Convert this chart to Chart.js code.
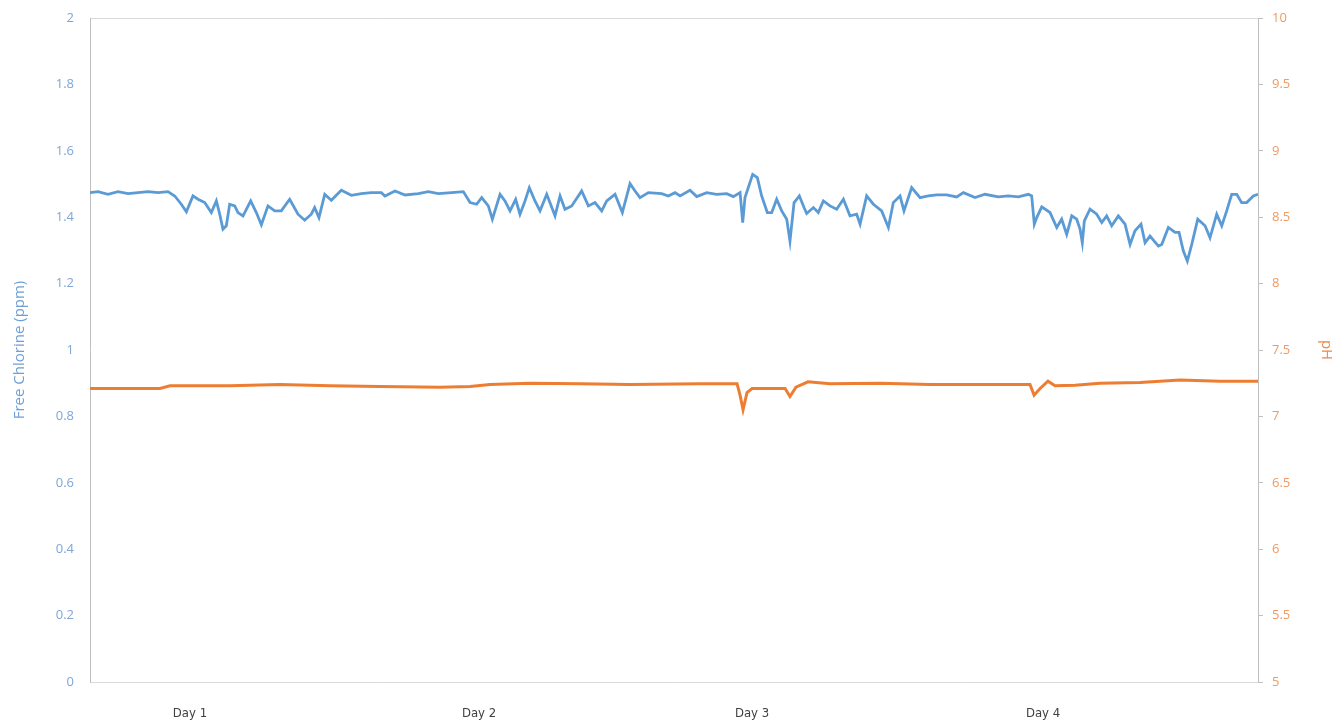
<!DOCTYPE html>
<html>
<head>
<meta charset="utf-8">
<script src="https://cdn.jsdelivr.net/npm/chart.js@4/dist/chart.umd.min.js"></script>
<style>
html,body{margin:0;padding:0;background:#fff;}
#wrap{position:absolute;left:0;top:0;width:1335px;height:720px;}
</style>
</head>
<body>
<div id="wrap"><canvas id="c" width="1335" height="720"></canvas></div>
<script>
// Time in hours since start of logging
const clTime = [0,0.67,1.5,2.33,3.17,4.0,4.83,5.67,6.5,7.06,7.61,8.03,8.58,9.0,9.56,10.11,10.53,10.81,11.08,11.36,11.64,12.06,12.33,12.75,13.39,13.86,14.28,14.83,15.39,15.94,16.64,17.33,17.89,18.44,18.72,19.08,19.56,20.11,20.94,21.78,22.61,23.44,24.28,
24.58,25.42,26.25,27.36,28.19,29.03,30.14,31.11,31.67,32.22,32.64,33.19,33.53,34.17,34.58,35.0,35.47,35.83,36.25,36.61,37.08,37.5,38.06,38.75,39.17,39.58,40.14,40.97,41.53,42.08,42.64,43.06,43.75,44.36,45.0,45.42,45.83,46.53,47.64,48.19,48.75,
49.17,50.0,50.56,51.39,52.22,53.06,53.61,54.17,54.39,54.58,55.22,55.61,55.97,56.44,56.81,57.22,57.64,58.06,58.33,58.67,59.11,59.5,59.72,60.28,60.69,61.11,61.67,62.22,62.78,63.33,63.89,64.17,64.72,65.28,65.97,66.53,66.94,67.5,67.83,68.47,69.17,69.86,70.56,71.39,72.22,72.78,
73.75,74.58,75.69,76.53,77.36,78.19,78.47,78.69,78.89,79.31,80.0,80.56,80.97,81.39,81.81,82.22,82.5,82.69,82.86,83.33,83.89,84.31,84.72,85.14,85.69,86.25,86.67,87.08,87.58,87.92,88.33,89.03,89.31,89.86,90.42,90.75,91.11,91.44,91.81,92.31,92.92,93.33,93.89,94.31,94.72,95.14,95.56,95.97,96.39,96.94,97.33];

const chlorine = [1.474,1.477,1.469,1.477,1.471,1.474,1.477,1.474,1.477,1.464,1.439,1.416,1.464,1.454,1.444,1.414,1.449,1.409,1.364,1.374,1.439,1.434,1.414,1.404,1.449,1.414,1.377,1.434,1.419,1.419,1.454,1.409,1.391,1.409,1.429,1.399,1.469,1.451,1.481,1.466,1.471,1.474,1.474,
1.464,1.479,1.467,1.471,1.477,1.471,1.474,1.477,1.444,1.439,1.459,1.434,1.394,1.469,1.449,1.419,1.454,1.409,1.449,1.489,1.449,1.419,1.469,1.404,1.464,1.424,1.434,1.479,1.434,1.444,1.419,1.449,1.469,1.414,1.501,1.479,1.459,1.474,1.471,1.464,1.474,
1.464,1.481,1.462,1.474,1.469,1.471,1.462,1.474,1.384,1.459,1.529,1.519,1.464,1.414,1.414,1.454,1.419,1.394,1.328,1.444,1.464,1.429,1.411,1.429,1.414,1.449,1.434,1.424,1.454,1.404,1.409,1.379,1.464,1.439,1.419,1.369,1.444,1.464,1.419,1.489,1.459,1.464,1.467,1.467,1.461,1.474,
1.459,1.469,1.461,1.464,1.461,1.469,1.464,1.379,1.399,1.431,1.414,1.369,1.394,1.348,1.404,1.394,1.364,1.323,1.389,1.424,1.409,1.384,1.404,1.374,1.404,1.379,1.318,1.359,1.379,1.323,1.343,1.313,1.318,1.369,1.354,1.354,1.298,1.268,1.318,1.394,1.374,1.338,1.409,1.374,1.419,1.469,1.469,1.444,1.444,1.464,1.469];

const phTime = [0,2.5,5.83,6.67,11.67,15.83,20,24.17,29.17,31.67,33.33,36.67,40.83,45,50.83,53.92,54.17,54.42,54.75,55.17,57.92,58.33,58.83,59.83,61.67,65.83,70,74.17,78.33,78.67,79.17,79.83,80.42,82.08,84.17,87.5,90.83,94.17,97.33];
const phValues = [7.21,7.21,7.21,7.23,7.23,7.24,7.23,7.225,7.22,7.225,7.24,7.25,7.245,7.24,7.245,7.245,7.16,7.05,7.18,7.21,7.21,7.15,7.22,7.26,7.245,7.25,7.24,7.24,7.24,7.16,7.21,7.265,7.23,7.235,7.25,7.255,7.275,7.265,7.265];

const dayTickHours = [8.33,32.42,55.17,79.42];
const dayLabels = ["Day 1","Day 2","Day 3","Day 4"];

const clTicks = [0,0.2,0.4,0.6,0.8,1,1.2,1.4,1.6,1.8,2];
const phTicks = [5,5.5,6,6.5,7,7.5,8,8.5,9,9.5,10];

const clData = clTime.map((t,i)=>({x:t,y:chlorine[i]}));
const phData = phTime.map((t,i)=>({x:t,y:phValues[i]}));

const tickFont = {family:"'Open Sans','Noto Sans',sans-serif", size:13};

new Chart(document.getElementById('c'), {
  type:'line',
  data:{
    datasets:[
      {label:'Free Chlorine (ppm)', data:clData, yAxisID:'y', borderColor:'#5b9bd5', backgroundColor:'#5b9bd5', borderWidth:2.8, pointRadius:0, tension:0},
      {label:'pH', data:phData, yAxisID:'y1', borderColor:'#ed7d31', backgroundColor:'#ed7d31', borderWidth:3, pointRadius:0, tension:0}
    ]
  },
  options:{
    responsive:false,
    animation:false,
    layout:{padding:{top:18,left:0,right:0,bottom:0}},
    plugins:{legend:{display:false}, tooltip:{enabled:false}, title:{display:false}},
    scales:{
      x:{
        type:'linear', min:0, max:97.33,
        grid:{display:false},
        border:{display:true,color:'#d9d9d9',width:1},
        afterBuildTicks:(s)=>{s.ticks = dayTickHours.map(v=>({value:v}));},
        afterFit:(s)=>{s.height = 38;},
        ticks:{
          autoSkip:false, maxRotation:0, padding:16,
          color:'#404040',
          font:{family:"'Liberation Sans Narrow','DejaVu Sans Condensed',sans-serif", size:13},
          callback:(v)=>{const i = dayTickHours.indexOf(v); return i>=0?dayLabels[i]:'';}
        }
      },
      xTop:{
        type:'linear', position:'top', min:0, max:97.33, display:true,
        grid:{display:false},
        border:{display:true,color:'#d9d9d9',width:1},
        ticks:{display:false},
        afterFit:(s)=>{s.height = 0;}
      },
      y:{
        type:'linear', position:'left', min:0, max:2,
        afterBuildTicks:(s)=>{s.ticks = clTicks.map(v=>({value:v}));},
        afterFit:(s)=>{s.width = 90;},
        grid:{display:false},
        border:{display:true,color:'#bfbfbf',width:1},
        ticks:{color:'#7ea6d6', font:tickFont, padding:8, callback:(v)=>String(v)},
        title:{display:true, text:'Free Chlorine (ppm)', color:'#6f9fd6', font:{family:"'Open Sans','Noto Sans',sans-serif", size:15}, padding:{top:11,bottom:0}}
      },
      y1:{
        type:'linear', position:'right', min:5, max:10,
        afterBuildTicks:(s)=>{s.ticks = phTicks.map(v=>({value:v}));},
        afterFit:(s)=>{s.width = 77;},
        grid:{display:true, drawOnChartArea:false, drawTicks:true, tickLength:5, color:'#bfbfbf'},
        border:{display:true,color:'#bfbfbf',width:1},
        ticks:{color:'#ef9a62', font:tickFont, padding:9, callback:(v)=>String(v)},
        title:{display:true, text:'pH', color:'#ed8a4a', font:{family:"'Open Sans','Noto Sans',sans-serif", size:15}, padding:{top:0,bottom:0}}
      }
    }
  }
});
</script>
</body>
</html>
